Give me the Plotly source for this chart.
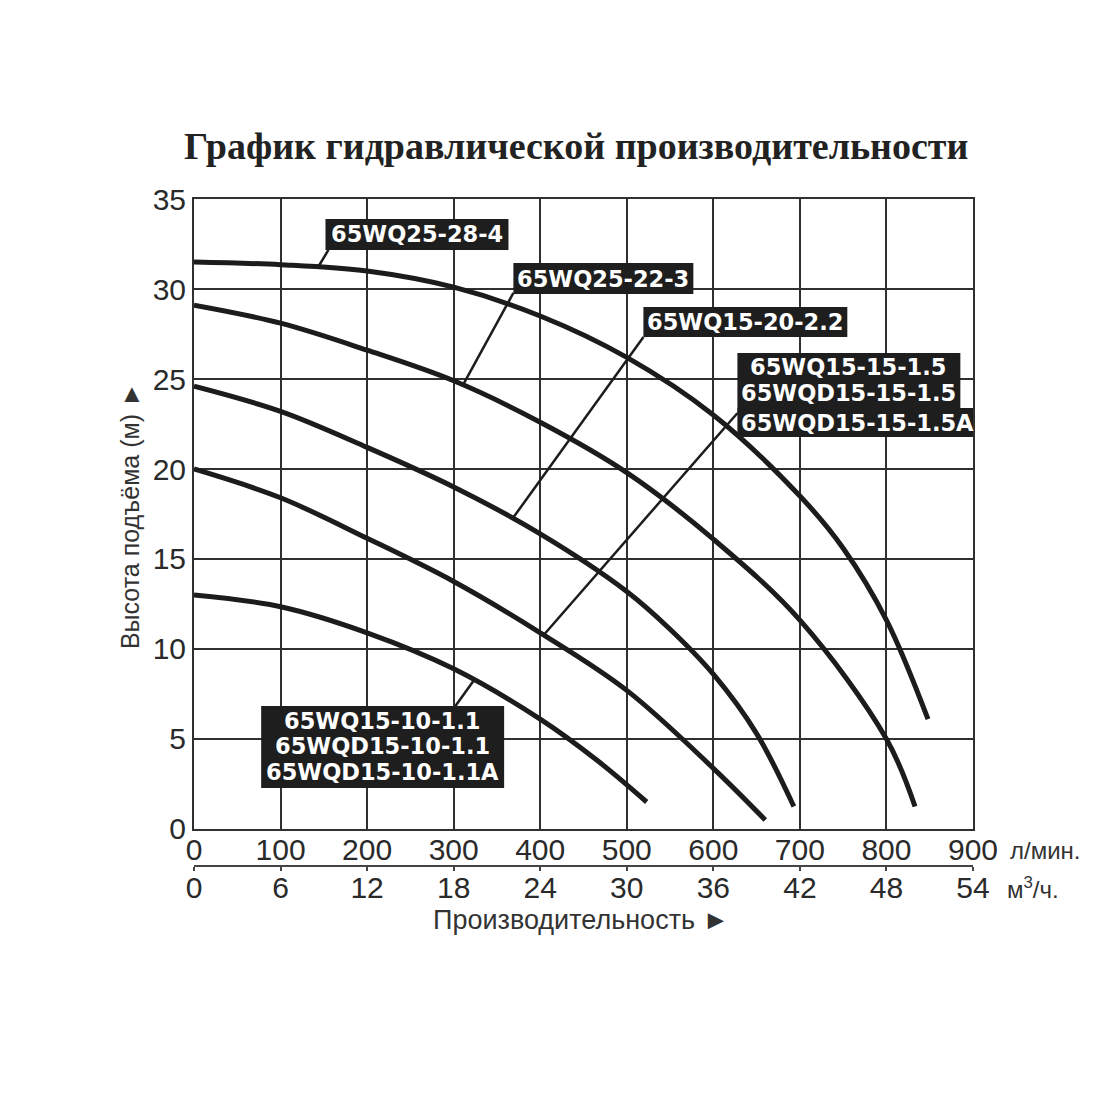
import plotly.graph_objects as go

# ------------------ DATA (flow in l/min, head in m) ------------------
q_28_4 = [0, 100, 200, 300, 400, 500, 600, 700, 750, 800, 848]
h_28_4 = [31.5, 31.35, 31.0, 30.1, 28.5, 26.2, 23.0, 18.5, 15.6, 11.6, 6.1]

q_22_3 = [0, 100, 200, 300, 400, 500, 600, 700, 800, 833]
h_22_3 = [29.1, 28.1, 26.6, 24.9, 22.6, 19.8, 16.1, 11.6, 5.0, 1.25]

q_20_2 = [0, 100, 200, 300, 400, 500, 550, 600, 650, 693]
h_20_2 = [24.6, 23.2, 21.2, 19.0, 16.4, 13.2, 11.1, 8.6, 5.3, 1.25]

q_15_15 = [0, 100, 200, 300, 400, 500, 600, 660]
h_15_15 = [20.0, 18.4, 16.15, 13.75, 10.9, 7.7, 3.37, 0.5]

q_15_10 = [0, 100, 200, 300, 400, 466, 523]
h_15_10 = [13.0, 12.35, 10.9, 8.9, 6.1, 3.8, 1.5]

lmin_ticks = [0, 100, 200, 300, 400, 500, 600, 700, 800, 900]
m3h_ticks = [0, 6, 12, 18, 24, 30, 36, 42, 48, 54]
head_ticks = [0, 5, 10, 15, 20, 25, 30, 35]

label_lines = [
    ["65WQ25-28-4"],
    ["65WQ25-22-3"],
    ["65WQ15-20-2.2"],
    ["65WQ15-15-1.5", "65WQD15-15-1.5", "65WQD15-15-1.5A"],
    ["65WQ15-10-1.1", "65WQD15-10-1.1", "65WQD15-10-1.1A"],
]

INK = "#1c1c1c"
GRID = "#303030"
BOX = "#1e1e1e"

fig = go.Figure()

# ------------------ CURVES ------------------
for q, h, name in [(q_28_4, h_28_4, "65WQ25-28-4"),
                   (q_22_3, h_22_3, "65WQ25-22-3"),
                   (q_20_2, h_20_2, "65WQ15-20-2.2"),
                   (q_15_15, h_15_15, "65WQ15-15-1.5"),
                   (q_15_10, h_15_10, "65WQ15-10-1.1")]:
    fig.add_trace(go.Scatter(
        x=q, y=h, mode="lines", name=name,
        line=dict(color=INK, width=5, shape="spline", smoothing=1.0),
        showlegend=False,
    ))

# dummy trace so the m3/h axis is drawn
fig.add_trace(go.Scatter(x=[0, 54], y=[None, None], xaxis="x2",
                         showlegend=False, hoverinfo="skip"))

# ------------------ LEADER LINES ------------------
leaders = [
    ((155.3, 32.17), (143.8, 31.25)),
    ((369.0, 29.78), (311.3, 24.72)),
    ((519.3, 27.33), (369.3, 17.33)),
    ((627.7, 23.10), (404.0, 10.78)),
    ((302.0, 6.83), (323.2, 8.25)),
]
for p0, p1 in leaders:
    fig.add_shape(type="line", xref="x", yref="y",
                  x0=p0[0], y0=p0[1], x1=p1[0], y1=p1[1],
                  line=dict(color=INK, width=2.5))

# ------------------ LABEL BOXES ------------------
# rectangles: (x0, x1, y0, y1) in data coords
rects = [
    (151.9, 363.3, 32.17, 33.89),
    (369.0, 576.9, 29.72, 31.44),
    (519.2, 754.8, 27.33, 29.00),
    (627.8, 885.4, 23.00, 26.44),
    (627.8, 903.9, 21.78, 23.39),
    (77.6, 358.3, 2.28, 6.83),
]
for x0, x1, y0, y1 in rects:
    fig.add_shape(type="rect", xref="x", yref="y", x0=x0, x1=x1, y0=y0, y1=y1,
                  fillcolor=BOX, line=dict(width=0))

# text line centres for each label box
line_pos = [
    [(257.6, 33.03)],
    [(473.0, 30.58)],
    [(636.9, 28.17)],
    [(756.0, 25.68), (756.0, 24.20), (766.4, 22.57)],
    [(217.7, 6.00), (217.7, 4.61), (217.7, 3.18)],
]
for lines, pos in zip(label_lines, line_pos):
    for txt, (lx, ly) in zip(lines, pos):
        fig.add_annotation(
            x=lx, y=ly, xref="x", yref="y", text=f"<b>{txt}</b>",
            showarrow=False, xanchor="center", yanchor="middle",
            font=dict(family="DejaVu Sans", size=22.5, color="white"),
        )

# ------------------ TEXTS ------------------
fig.add_annotation(
    text="<b>График гидравлической производительности</b>",
    x=0.49, y=1.076, xref="paper", yref="paper", showarrow=False,
    xanchor="center", yanchor="middle",
    font=dict(family="Liberation Serif", size=38, color="#222"),
)
fig.add_annotation(
    text="Высота подъёма (м) ►", textangle=-90,
    x=-0.0822, y=0.549, xref="paper", yref="paper", showarrow=False,
    xanchor="center", yanchor="middle",
    font=dict(family="Liberation Sans", size=25, color="#333"),
)
fig.add_annotation(
    text="Производительность ►",
    x=0.497, y=-0.0285, xref="paper", yref="paper", showarrow=False,
    xanchor="center", yanchor="middle",
    font=dict(family="Liberation Sans", size=27, color="#333"),
)
fig.add_annotation(
    text="л/мин.", x=1.045, y=0.0713, xref="paper", yref="paper",
    xanchor="left", yanchor="middle", showarrow=False,
    font=dict(family="Liberation Sans", size=24, color="#333"),
)
fig.add_annotation(
    text="м<sup>3</sup>/ч.", x=1.041, y=0.0171, xref="paper", yref="paper",
    xanchor="left", yanchor="middle", showarrow=False,
    font=dict(family="Liberation Sans", size=24, color="#333"),
)

# ------------------ LAYOUT ------------------
tick_font = dict(family="Liberation Sans", size=30, color="#2a2a2a")
fig.update_layout(
    width=1100, height=1100,
    margin=dict(l=186, r=135, t=191, b=208, autoexpand=False),
    paper_bgcolor="white", plot_bgcolor="white",
    xaxis=dict(range=[0, 900], tickvals=lmin_ticks, showgrid=True,
               gridcolor=GRID, gridwidth=2, showline=True, mirror=True,
               linecolor=GRID, linewidth=2, ticks="", zeroline=False,
               ticklabelstandoff=-7, tickfont=tick_font),
    xaxis2=dict(range=[0, 54], tickvals=m3h_ticks, overlaying="x",
                anchor="free", position=0.0485, side="bottom",
                showline=True, linecolor="#444", linewidth=2,
                ticks="outside", ticklen=4, tickwidth=2, tickcolor="#444",
                ticklabelstandoff=-9,
                showgrid=False, zeroline=False, tickfont=tick_font),
    yaxis=dict(range=[0, 35], tickvals=head_ticks, domain=[0.1013, 1],
               showgrid=True, gridcolor=GRID, gridwidth=2, showline=True,
               mirror=True, linecolor=GRID, linewidth=2, ticks="",
               zeroline=False, tickfont=tick_font),
)

fig.write_html("out.html")
